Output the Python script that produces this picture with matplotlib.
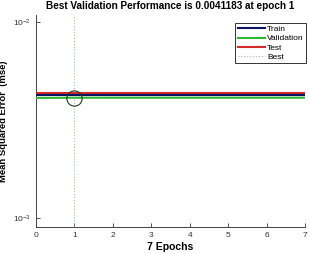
import numpy as np
import matplotlib.pyplot as plt

plt.rcParams['font.family'] = ['Liberation Sans', 'DejaVu Sans']

epochs = [0, 1, 2, 3, 4, 5, 6, 7]
train = [0.00424, 0.00424, 0.00424, 0.00424, 0.00424, 0.00424, 0.00424, 0.00424]
validation = [0.00411, 0.0041183, 0.00412, 0.00412, 0.00412, 0.00412, 0.00412, 0.00412]
test = [0.00437, 0.00437, 0.00437, 0.00437, 0.00437, 0.00437, 0.00437, 0.00437]
best_epoch = 1
best_perf = 0.0041183

fig = plt.figure(figsize=(3.09, 2.54), dpi=100)
ax = fig.add_axes([0.1165, 0.106, 0.871, 0.835])

ax.semilogy(epochs, test, color='#d42a2a', lw=1.5, label='Test', zorder=3)
ax.semilogy(epochs, train, color='#0a1464', lw=1.5, label='Train', zorder=4)
ax.semilogy(epochs, validation, color='#2eb82e', lw=1.5, label='Validation', zorder=3)
ax.axvline(best_epoch, color='#9bbf9b', ls=':', lw=0.8, label='Best')
ax.plot(best_epoch, best_perf, 'o', mfc='none', mec='#1e3c1e', ms=11, mew=0.8, zorder=5)

ax.set_xlim(0, 7)
ax.set_ylim(9.0e-4, 1.09e-2)
ax.set_xticks(range(8))
ax.set_yticks([1e-3, 1e-2])
ax.minorticks_off()
ax.tick_params(direction='in', labelsize=6, length=3, width=0.6, colors='#333333')
for s in ['top', 'right']:
    ax.spines[s].set_visible(False)
for s in ['left', 'bottom']:
    ax.spines[s].set_linewidth(0.7)
    ax.spines[s].set_color('#444444')

ax.set_title('Best Validation Performance is 0.0041183 at epoch 1',
             fontsize=7.2, fontweight='bold', pad=4)
ax.set_xlabel('7 Epochs', fontsize=7.5, fontweight='bold', labelpad=2)
ax.set_ylabel('Mean Squared Error  (mse)', fontsize=6.8, fontweight='bold')
ax.yaxis.set_label_coords(-0.105, 0.5)

h, l = ax.get_legend_handles_labels()
order = [1, 2, 0, 3]
leg = ax.legend([h[i] for i in order], [l[i] for i in order],
                loc='upper right', fontsize=6, frameon=True, fancybox=False,
                edgecolor='black', handlelength=3.2, borderpad=0.3, labelspacing=0.15,
                handletextpad=0.3, borderaxespad=0, bbox_to_anchor=(1.004, 0.962))
leg.get_frame().set_linewidth(0.7)

fig.savefig('out.png', dpi=100)
